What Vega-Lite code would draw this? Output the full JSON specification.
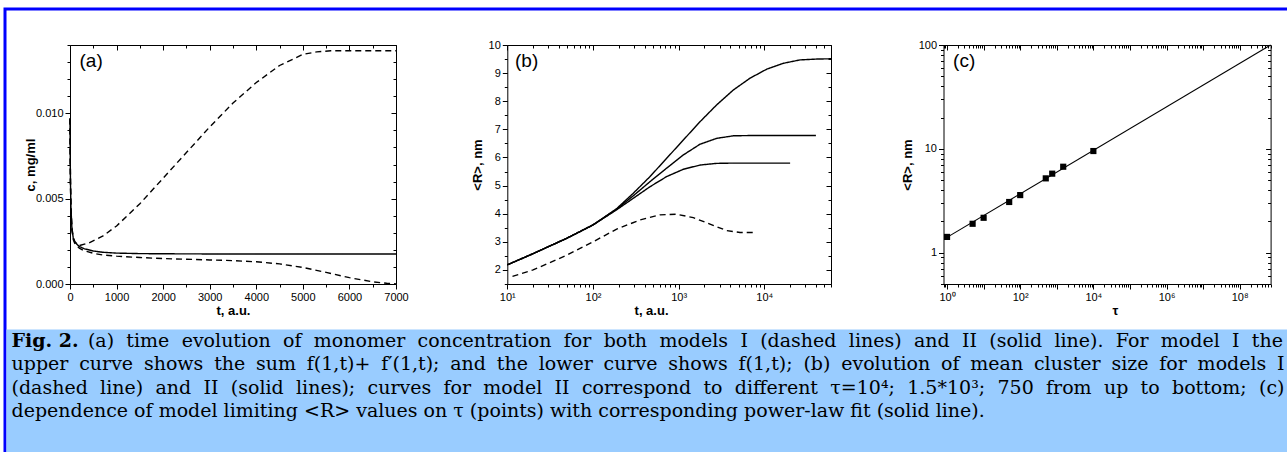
{
 "$schema": "https://vega.github.io/schema/vega-lite/v6.json",
 "width": 1282,
 "height": 443,
 "autosize": "none",
 "padding": {"left": 5, "top": 9, "right": 0, "bottom": 0},
 "background": "white",
 "config": {
  "view": {"stroke": "#0000FF", "strokeWidth": 3, "strokeDash": [1282, 1725, 443, 10]},
  "axis": {"grid": false, "domainColor": "#000000", "tickColor": "#000000", "labelColor": "#000000", "titleColor": "#000000", "labelFont": "Liberation Sans", "labelFontSize": 11, "titleFont": "Liberation Sans", "titleFontSize": 13, "titleFontWeight": "bold", "labelOverlap": false, "labelFlush": false, "labelBound": false, "labelPadding": 2, "tickWidth": 1, "domainWidth": 1}
 },
 "datasets": {
  "panelA": [
   {"curve": "I sum", "model": "I", "t": 0, "c": 0.0097},
   {"curve": "I sum", "model": "I", "t": 5, "c": 0.0075},
   {"curve": "I sum", "model": "I", "t": 10, "c": 0.006},
   {"curve": "I sum", "model": "I", "t": 20, "c": 0.0045},
   {"curve": "I sum", "model": "I", "t": 40, "c": 0.0033},
   {"curve": "I sum", "model": "I", "t": 70, "c": 0.0027},
   {"curve": "I sum", "model": "I", "t": 100, "c": 0.0025},
   {"curve": "I sum", "model": "I", "t": 150, "c": 0.00233},
   {"curve": "I sum", "model": "I", "t": 200, "c": 0.00225},
   {"curve": "I sum", "model": "I", "t": 400, "c": 0.0024},
   {"curve": "I sum", "model": "I", "t": 700, "c": 0.0028},
   {"curve": "I sum", "model": "I", "t": 1000, "c": 0.0034},
   {"curve": "I sum", "model": "I", "t": 1500, "c": 0.0047},
   {"curve": "I sum", "model": "I", "t": 2000, "c": 0.0062},
   {"curve": "I sum", "model": "I", "t": 2500, "c": 0.0077},
   {"curve": "I sum", "model": "I", "t": 3000, "c": 0.0092},
   {"curve": "I sum", "model": "I", "t": 3500, "c": 0.0106},
   {"curve": "I sum", "model": "I", "t": 4000, "c": 0.0118},
   {"curve": "I sum", "model": "I", "t": 4500, "c": 0.0128},
   {"curve": "I sum", "model": "I", "t": 5000, "c": 0.01345},
   {"curve": "I sum", "model": "I", "t": 5300, "c": 0.0136},
   {"curve": "I sum", "model": "I", "t": 5600, "c": 0.01366},
   {"curve": "I sum", "model": "I", "t": 7000, "c": 0.01366},
   {"curve": "I f", "model": "I", "t": 0, "c": 0.0097},
   {"curve": "I f", "model": "I", "t": 5, "c": 0.0075},
   {"curve": "I f", "model": "I", "t": 10, "c": 0.006},
   {"curve": "I f", "model": "I", "t": 20, "c": 0.0044},
   {"curve": "I f", "model": "I", "t": 40, "c": 0.0032},
   {"curve": "I f", "model": "I", "t": 70, "c": 0.0026},
   {"curve": "I f", "model": "I", "t": 100, "c": 0.0024},
   {"curve": "I f", "model": "I", "t": 150, "c": 0.00222},
   {"curve": "I f", "model": "I", "t": 200, "c": 0.0021},
   {"curve": "I f", "model": "I", "t": 300, "c": 0.00195},
   {"curve": "I f", "model": "I", "t": 500, "c": 0.0018},
   {"curve": "I f", "model": "I", "t": 700, "c": 0.0017},
   {"curve": "I f", "model": "I", "t": 1000, "c": 0.00163},
   {"curve": "I f", "model": "I", "t": 1500, "c": 0.00155},
   {"curve": "I f", "model": "I", "t": 2000, "c": 0.00149},
   {"curve": "I f", "model": "I", "t": 2500, "c": 0.00145},
   {"curve": "I f", "model": "I", "t": 3000, "c": 0.00141},
   {"curve": "I f", "model": "I", "t": 3500, "c": 0.00137},
   {"curve": "I f", "model": "I", "t": 4000, "c": 0.0013},
   {"curve": "I f", "model": "I", "t": 4500, "c": 0.00118},
   {"curve": "I f", "model": "I", "t": 5000, "c": 0.00097},
   {"curve": "I f", "model": "I", "t": 5500, "c": 0.00068},
   {"curve": "I f", "model": "I", "t": 6000, "c": 0.00037},
   {"curve": "I f", "model": "I", "t": 6500, "c": 0.00013},
   {"curve": "I f", "model": "I", "t": 6800, "c": 0.00004},
   {"curve": "I f", "model": "I", "t": 7000, "c": 0.00001},
   {"curve": "II", "model": "II", "t": 0, "c": 0.0097},
   {"curve": "II", "model": "II", "t": 5, "c": 0.0075},
   {"curve": "II", "model": "II", "t": 10, "c": 0.006},
   {"curve": "II", "model": "II", "t": 20, "c": 0.0045},
   {"curve": "II", "model": "II", "t": 40, "c": 0.0033},
   {"curve": "II", "model": "II", "t": 70, "c": 0.0027},
   {"curve": "II", "model": "II", "t": 100, "c": 0.0025},
   {"curve": "II", "model": "II", "t": 150, "c": 0.00232},
   {"curve": "II", "model": "II", "t": 200, "c": 0.0022},
   {"curve": "II", "model": "II", "t": 300, "c": 0.00207},
   {"curve": "II", "model": "II", "t": 500, "c": 0.00193},
   {"curve": "II", "model": "II", "t": 700, "c": 0.00186},
   {"curve": "II", "model": "II", "t": 1000, "c": 0.00181},
   {"curve": "II", "model": "II", "t": 1500, "c": 0.00178},
   {"curve": "II", "model": "II", "t": 2000, "c": 0.00177},
   {"curve": "II", "model": "II", "t": 3000, "c": 0.00176},
   {"curve": "II", "model": "II", "t": 7000, "c": 0.00176}
  ],
  "panelB": [
   {"curve": "tau 1e4", "model": "II", "t": 10, "R": 2.18},
   {"curve": "tau 1e4", "model": "II", "t": 20, "R": 2.58},
   {"curve": "tau 1e4", "model": "II", "t": 49, "R": 3.12},
   {"curve": "tau 1e4", "model": "II", "t": 100, "R": 3.6},
   {"curve": "tau 1e4", "model": "II", "t": 189, "R": 4.18},
   {"curve": "tau 1e4", "model": "II", "t": 296, "R": 4.73},
   {"curve": "tau 1e4", "model": "II", "t": 463, "R": 5.32},
   {"curve": "tau 1e4", "model": "II", "t": 724, "R": 5.97},
   {"curve": "tau 1e4", "model": "II", "t": 1133, "R": 6.62},
   {"curve": "tau 1e4", "model": "II", "t": 1774, "R": 7.27},
   {"curve": "tau 1e4", "model": "II", "t": 2777, "R": 7.87},
   {"curve": "tau 1e4", "model": "II", "t": 4349, "R": 8.4},
   {"curve": "tau 1e4", "model": "II", "t": 6808, "R": 8.82},
   {"curve": "tau 1e4", "model": "II", "t": 10660, "R": 9.14},
   {"curve": "tau 1e4", "model": "II", "t": 16680, "R": 9.35},
   {"curve": "tau 1e4", "model": "II", "t": 26100, "R": 9.47},
   {"curve": "tau 1e4", "model": "II", "t": 40800, "R": 9.5},
   {"curve": "tau 1e4", "model": "II", "t": 60000, "R": 9.51},
   {"curve": "tau 1.5e3", "model": "II", "t": 10, "R": 2.18},
   {"curve": "tau 1.5e3", "model": "II", "t": 20, "R": 2.58},
   {"curve": "tau 1.5e3", "model": "II", "t": 49, "R": 3.12},
   {"curve": "tau 1.5e3", "model": "II", "t": 100, "R": 3.6},
   {"curve": "tau 1.5e3", "model": "II", "t": 189, "R": 4.16},
   {"curve": "tau 1.5e3", "model": "II", "t": 296, "R": 4.64},
   {"curve": "tau 1.5e3", "model": "II", "t": 463, "R": 5.14},
   {"curve": "tau 1.5e3", "model": "II", "t": 724, "R": 5.62},
   {"curve": "tau 1.5e3", "model": "II", "t": 1133, "R": 6.09},
   {"curve": "tau 1.5e3", "model": "II", "t": 1774, "R": 6.47},
   {"curve": "tau 1.5e3", "model": "II", "t": 2777, "R": 6.68},
   {"curve": "tau 1.5e3", "model": "II", "t": 4349, "R": 6.77},
   {"curve": "tau 1.5e3", "model": "II", "t": 6808, "R": 6.78},
   {"curve": "tau 1.5e3", "model": "II", "t": 40000, "R": 6.78},
   {"curve": "tau 750", "model": "II", "t": 10, "R": 2.18},
   {"curve": "tau 750", "model": "II", "t": 20, "R": 2.58},
   {"curve": "tau 750", "model": "II", "t": 49, "R": 3.12},
   {"curve": "tau 750", "model": "II", "t": 100, "R": 3.6},
   {"curve": "tau 750", "model": "II", "t": 189, "R": 4.14},
   {"curve": "tau 750", "model": "II", "t": 296, "R": 4.55},
   {"curve": "tau 750", "model": "II", "t": 463, "R": 4.96},
   {"curve": "tau 750", "model": "II", "t": 724, "R": 5.32},
   {"curve": "tau 750", "model": "II", "t": 1133, "R": 5.58},
   {"curve": "tau 750", "model": "II", "t": 1774, "R": 5.73},
   {"curve": "tau 750", "model": "II", "t": 2777, "R": 5.79},
   {"curve": "tau 750", "model": "II", "t": 4349, "R": 5.8},
   {"curve": "tau 750", "model": "II", "t": 20000, "R": 5.8},
   {"curve": "model I", "model": "I", "t": 11.5, "R": 1.77},
   {"curve": "model I", "model": "I", "t": 20, "R": 2.0},
   {"curve": "model I", "model": "I", "t": 49, "R": 2.52},
   {"curve": "model I", "model": "I", "t": 100, "R": 3.0},
   {"curve": "model I", "model": "I", "t": 189, "R": 3.45},
   {"curve": "model I", "model": "I", "t": 354, "R": 3.78},
   {"curve": "model I", "model": "I", "t": 605, "R": 3.96},
   {"curve": "model I", "model": "I", "t": 948, "R": 3.98},
   {"curve": "model I", "model": "I", "t": 1483, "R": 3.86},
   {"curve": "model I", "model": "I", "t": 2322, "R": 3.63},
   {"curve": "model I", "model": "I", "t": 3634, "R": 3.4},
   {"curve": "model I", "model": "I", "t": 5200, "R": 3.33},
   {"curve": "model I", "model": "I", "t": 7570, "R": 3.33}
  ],
  "panelC": [
   {"tau": 1, "R": 1.42},
   {"tau": 5, "R": 1.9},
   {"tau": 10, "R": 2.17},
   {"tau": 50, "R": 3.08},
   {"tau": 100, "R": 3.59},
   {"tau": 500, "R": 5.2},
   {"tau": 750, "R": 5.77},
   {"tau": 1500, "R": 6.73},
   {"tau": 10000, "R": 9.53}
  ],
  "fitC": [
   {"tau": 0.85, "R": 1.36},
   {"tau": 7e8, "R": 100}
  ],
  "caption": [
   {"line": 1, "part": "head", "text": "Fig. 2."},
   {"line": 1, "part": "right", "text": "(a) \u2004time \u2004evolution \u2004of \u2004monomer \u2004concentration \u2004for \u2004both \u2004models \u2004I \u2004(dashed \u2004lines) \u2004and \u2004II \u2004(solid \u2004line). \u2004For \u2004model \u2004I \u2004the"},
   {"line": 2, "part": "left", "text": "upper \u2005curve \u2005shows \u2005the \u2005sum \u2005f(1,t)+ \u2005f′(1,t); \u2005and \u2005the \u2005lower \u2005curve \u2005shows \u2005f(1,t); \u2005(b) \u2005evolution \u2005of \u2005mean \u2005cluster \u2005size \u2005for \u2005models \u2005I"},
   {"line": 3, "part": "left", "text": "(dashed \u2004line) \u2004and \u2004II \u2004(solid \u2004lines); \u2004curves \u2004for \u2004model \u2004II \u2004correspond \u2004to \u2004different \u2004τ=10⁴; \u20041.5*10³; \u2004750 \u2004from \u2004up \u2004to \u2004bottom; \u2004(c)"},
   {"line": 4, "part": "left", "text": "dependence of model limiting <R> values on τ (points) with corresponding power-law fit (solid line)."}
  ]
 },
 "layer": [
  {
   "data": {"name": "panelA"},
   "layer": [
    {
     "mark": {"type": "line", "color": "black", "strokeWidth": 1.4},
     "encoding": {
      "x": {"field": "t", "type": "quantitative", "scale": {"domain": [0, 7000], "range": [65, 391], "nice": false, "zero": false},
       "axis": {"orient": "bottom", "offset": -168, "values": [0,500,1000,1500,2000,2500,3000,3500,4000,4500,5000,5500,6000,6500,7000], "labelExpr": "datum.value % 1000 === 0 ? '' + datum.value : ''", "tickSize": {"condition": {"test": "datum.value % 1000 === 0", "value": 5}, "value": 3}, "title": "t, a.u.", "titlePadding": 2}},
      "y": {"field": "c", "type": "quantitative", "scale": {"domain": [0, 0.014], "range": [275, 36], "nice": false, "zero": false},
       "axis": {"orient": "left", "offset": -65, "values": [0,0.001,0.002,0.003,0.004,0.005,0.006,0.007,0.008,0.009,0.01,0.011,0.012,0.013,0.014], "labelExpr": "abs(datum.value*200 - round(datum.value*200)) < 0.000001 ? format(datum.value, '.3f') : ''", "tickSize": {"condition": {"test": "abs(datum.value*200 - round(datum.value*200)) < 0.000001", "value": 5}, "value": 3}, "title": "c, mg/ml", "titlePadding": -2}},
      "detail": {"field": "curve", "type": "nominal"},
      "strokeDash": {"field": "model", "type": "nominal", "scale": {"domain": ["I", "II"], "range": [[6, 4], [1, 0]]}, "legend": null}
     }
    },
    {
     "mark": {"type": "point", "opacity": 0},
     "encoding": {
      "x": {"field": "t", "type": "quantitative", "scale": {"domain": [0, 7000], "range": [65, 391], "nice": false, "zero": false},
       "axis": {"orient": "bottom", "offset": -407, "values": [0,500,1000,1500,2000,2500,3000,3500,4000,4500,5000,5500,6000,6500,7000], "labels": false, "title": null, "tickSize": {"condition": {"test": "datum.value % 1000 === 0", "value": 5}, "value": 3}}},
      "y": {"field": "c", "type": "quantitative", "scale": {"domain": [0, 0.014], "range": [275, 36], "nice": false, "zero": false},
       "axis": {"orient": "left", "offset": -391, "values": [0,0.001,0.002,0.003,0.004,0.005,0.006,0.007,0.008,0.009,0.01,0.011,0.012,0.013,0.014], "labels": false, "title": null, "tickSize": {"condition": {"test": "abs(datum.value*200 - round(datum.value*200)) < 0.000001", "value": 5}, "value": 3}}}
     }
    },
    {
     "data": {"values": [{"label": "(a)"}]},
     "mark": {"type": "text", "align": "left", "baseline": "alphabetic", "font": "Liberation Sans", "fontSize": 19, "color": "black"},
     "encoding": {
      "x": {"datum": 204, "type": "quantitative", "scale": {"domain": [0, 7000], "range": [65, 391], "nice": false, "zero": false}, "axis": null},
      "y": {"datum": 0.01273, "type": "quantitative", "scale": {"domain": [0, 0.014], "range": [275, 36], "nice": false, "zero": false}, "axis": null},
      "text": {"field": "label", "type": "nominal"}
     }
    }
   ],
   "resolve": {"axis": {"x": "independent", "y": "independent"}}
  },
  {
   "data": {"name": "panelB"},
   "layer": [
    {
     "mark": {"type": "line", "color": "black", "strokeWidth": 1.4},
     "encoding": {
      "x": {"field": "t", "type": "quantitative", "scale": {"type": "log", "domain": [10, 60000], "range": [502.3, 826], "nice": false},
       "axis": {"orient": "bottom", "offset": -168, "values": [10,20,30,40,50,60,70,80,90,100,200,300,400,500,600,700,800,900,1000,2000,3000,4000,5000,6000,7000,8000,9000,10000,20000,30000,40000,50000,60000], "labelExpr": "datum.value === 10 ? '10¹' : datum.value === 100 ? '10²' : datum.value === 1000 ? '10³' : datum.value === 10000 ? '10⁴' : ''", "tickSize": {"condition": {"test": "indexof([10,100,1000,10000], datum.value) >= 0", "value": 5}, "value": 3}, "title": "t, a.u.", "titlePadding": 2, "titleX": 663, "titleAlign": "right", "titleAnchor": "start"}},
      "y": {"field": "R", "type": "quantitative", "scale": {"domain": [1.5, 10], "range": [275, 36], "nice": false, "zero": false},
       "axis": {"orient": "left", "offset": -502.3, "values": [1.5,2,2.5,3,3.5,4,4.5,5,5.5,6,6.5,7,7.5,8,8.5,9,9.5,10], "labelExpr": "datum.value % 1 === 0 ? '' + datum.value : ''", "tickSize": {"condition": {"test": "datum.value % 1 === 0", "value": 5}, "value": 3}, "title": "<R>, nm", "titlePadding": 4}},
      "detail": {"field": "curve", "type": "nominal"},
      "strokeDash": {"field": "model", "type": "nominal", "scale": {"domain": ["I", "II"], "range": [[7, 4], [1, 0]]}, "legend": null}
     }
    },
    {
     "mark": {"type": "point", "opacity": 0},
     "encoding": {
      "x": {"field": "t", "type": "quantitative", "scale": {"type": "log", "domain": [10, 60000], "range": [502.3, 826], "nice": false},
       "axis": {"orient": "bottom", "offset": -407, "values": [10,20,30,40,50,60,70,80,90,100,200,300,400,500,600,700,800,900,1000,2000,3000,4000,5000,6000,7000,8000,9000,10000,20000,30000,40000,50000,60000], "labels": false, "title": null, "tickSize": {"condition": {"test": "indexof([10,100,1000,10000], datum.value) >= 0", "value": 5}, "value": 3}}},
      "y": {"field": "R", "type": "quantitative", "scale": {"domain": [1.5, 10], "range": [275, 36], "nice": false, "zero": false},
       "axis": {"orient": "left", "offset": -826, "values": [1.5,2,2.5,3,3.5,4,4.5,5,5.5,6,6.5,7,7.5,8,8.5,9,9.5,10], "labels": false, "title": null, "tickSize": {"condition": {"test": "datum.value % 1 === 0", "value": 5}, "value": 3}}}
     }
    },
    {
     "data": {"values": [{"label": "(b)"}]},
     "mark": {"type": "text", "align": "left", "baseline": "alphabetic", "font": "Liberation Sans", "fontSize": 19, "color": "black"},
     "encoding": {
      "x": {"datum": 12.3, "type": "quantitative", "scale": {"type": "log", "domain": [10, 60000], "range": [502.3, 826], "nice": false}, "axis": null},
      "y": {"datum": 9.23, "type": "quantitative", "scale": {"domain": [1.5, 10], "range": [275, 36], "nice": false, "zero": false}, "axis": null},
      "text": {"field": "label", "type": "nominal"}
     }
    }
   ],
   "resolve": {"axis": {"x": "independent", "y": "independent"}}
  },
  {
   "layer": [
    {
     "data": {"name": "panelC"},
     "mark": {"type": "square", "size": 38, "color": "black", "opacity": 1},
     "encoding": {
      "x": {"field": "tau", "type": "quantitative", "scale": {"type": "log", "domain": [0.8, 700000000], "range": [938.5, 1265.6], "nice": false},
       "axis": {"orient": "bottom", "offset": -168, "values": [0.8,0.9,1,2,3,4,5,6,7,8,9,10,20,30,40,50,60,70,80,90,100,200,300,400,500,600,700,800,900,1000,2000,3000,4000,5000,6000,7000,8000,9000,1e4,2e4,3e4,4e4,5e4,6e4,7e4,8e4,9e4,1e5,2e5,3e5,4e5,5e5,6e5,7e5,8e5,9e5,1e6,2e6,3e6,4e6,5e6,6e6,7e6,8e6,9e6,1e7,2e7,3e7,4e7,5e7,6e7,7e7,8e7,9e7,1e8,2e8,3e8,4e8,5e8,6e8,7e8], "labelExpr": "datum.value === 1 ? '10⁰' : datum.value === 100 ? '10²' : datum.value === 10000 ? '10⁴' : datum.value === 1000000 ? '10⁶' : datum.value === 100000000 ? '10⁸' : ''", "tickSize": {"condition": {"test": "indexof([1,10,100,1000,10000,100000,1000000,10000000,100000000], datum.value) >= 0", "value": 5}, "value": 3}, "title": "τ", "titlePadding": 2, "titleX": 1110, "titleAlign": "center", "titleAnchor": "start"}},
      "y": {"field": "R", "type": "quantitative", "scale": {"type": "log", "domain": [0.5, 100], "range": [275, 36], "nice": false},
       "axis": {"orient": "left", "offset": -938.5, "values": [0.5,0.6,0.7,0.8,0.9,1,2,3,4,5,6,7,8,9,10,20,30,40,50,60,70,80,90,100], "labelExpr": "indexof([1,10,100], datum.value) >= 0 ? '' + datum.value : ''", "tickSize": {"condition": {"test": "indexof([1,10,100], datum.value) >= 0", "value": 5}, "value": 3}, "title": "<R>, nm", "titlePadding": 4}}
     }
    },
    {
     "data": {"name": "fitC"},
     "mark": {"type": "line", "color": "black", "strokeWidth": 1.1},
     "encoding": {
      "x": {"field": "tau", "type": "quantitative", "scale": {"type": "log", "domain": [0.8, 700000000], "range": [938.5, 1265.6], "nice": false},
       "axis": {"orient": "bottom", "offset": -407, "values": [0.8,0.9,1,2,3,4,5,6,7,8,9,10,20,30,40,50,60,70,80,90,100,200,300,400,500,600,700,800,900,1000,2000,3000,4000,5000,6000,7000,8000,9000,1e4,2e4,3e4,4e4,5e4,6e4,7e4,8e4,9e4,1e5,2e5,3e5,4e5,5e5,6e5,7e5,8e5,9e5,1e6,2e6,3e6,4e6,5e6,6e6,7e6,8e6,9e6,1e7,2e7,3e7,4e7,5e7,6e7,7e7,8e7,9e7,1e8,2e8,3e8,4e8,5e8,6e8,7e8], "labels": false, "title": null, "tickSize": {"condition": {"test": "indexof([1,10,100,1000,10000,100000,1000000,10000000,100000000], datum.value) >= 0", "value": 5}, "value": 3}}},
      "y": {"field": "R", "type": "quantitative", "scale": {"type": "log", "domain": [0.5, 100], "range": [275, 36], "nice": false},
       "axis": {"orient": "left", "offset": -1265.6, "values": [0.5,0.6,0.7,0.8,0.9,1,2,3,4,5,6,7,8,9,10,20,30,40,50,60,70,80,90,100], "labels": false, "title": null, "tickSize": {"condition": {"test": "indexof([1,10,100], datum.value) >= 0", "value": 5}, "value": 3}}}
     }
    },
    {
     "data": {"values": [{"label": "(c)"}]},
     "mark": {"type": "text", "align": "left", "baseline": "alphabetic", "font": "Liberation Sans", "fontSize": 19, "color": "black"},
     "encoding": {
      "x": {"datum": 1.46, "type": "quantitative", "scale": {"type": "log", "domain": [0.8, 700000000], "range": [938.5, 1265.6], "nice": false}, "axis": null},
      "y": {"datum": 61.8, "type": "quantitative", "scale": {"type": "log", "domain": [0.5, 100], "range": [275, 36], "nice": false}, "axis": null},
      "text": {"field": "label", "type": "nominal"}
     }
    }
   ],
   "resolve": {"axis": {"x": "independent", "y": "independent"}}
  },
  {
   "layer": [
    {
     "data": {"values": [{"box": "caption"}]},
     "mark": {"type": "rect", "color": "#99CCFF"},
     "encoding": {
      "x": {"datum": 0, "type": "quantitative", "scale": {"domain": [0, 1], "range": [1.5, 1282], "nice": false, "zero": false}, "axis": null},
      "x2": {"datum": 1},
      "y": {"datum": 0.25, "type": "quantitative", "scale": {"domain": [0.25, 5.5], "range": [320.5, 443], "nice": false, "zero": false}, "axis": null},
      "y2": {"datum": 5.5}
     }
    },
    {
     "data": {"name": "caption"},
     "transform": [{"filter": "datum.part === 'head'"}],
     "mark": {"type": "text", "align": "left", "baseline": "alphabetic", "font": "DejaVu Serif", "fontSize": 19, "fontWeight": "bold", "dx": 5, "color": "black"},
     "encoding": {
      "x": {"datum": 0, "type": "quantitative", "scale": {"domain": [0, 1], "range": [1.5, 1282], "nice": false, "zero": false}, "axis": null},
      "y": {"field": "line", "type": "quantitative", "scale": {"domain": [0.25, 5.5], "range": [320.5, 443], "nice": false, "zero": false}, "axis": null},
      "text": {"field": "text", "type": "nominal"}
     }
    },
    {
     "data": {"name": "caption"},
     "transform": [{"filter": "datum.part === 'left'"}],
     "mark": {"type": "text", "align": "left", "baseline": "alphabetic", "font": "DejaVu Serif", "fontSize": 19, "dx": 5, "color": "black"},
     "encoding": {
      "x": {"datum": 0, "type": "quantitative", "scale": {"domain": [0, 1], "range": [1.5, 1282], "nice": false, "zero": false}, "axis": null},
      "y": {"field": "line", "type": "quantitative", "scale": {"domain": [0.25, 5.5], "range": [320.5, 443], "nice": false, "zero": false}, "axis": null},
      "text": {"field": "text", "type": "nominal"}
     }
    },
    {
     "data": {"name": "caption"},
     "transform": [{"filter": "datum.part === 'right'"}],
     "mark": {"type": "text", "align": "right", "baseline": "alphabetic", "font": "DejaVu Serif", "fontSize": 19, "dx": -4, "color": "black"},
     "encoding": {
      "x": {"datum": 1, "type": "quantitative", "scale": {"domain": [0, 1], "range": [1.5, 1282], "nice": false, "zero": false}, "axis": null},
      "y": {"field": "line", "type": "quantitative", "scale": {"domain": [0.25, 5.5], "range": [320.5, 443], "nice": false, "zero": false}, "axis": null},
      "text": {"field": "text", "type": "nominal"}
     }
    }
   ]
  }
 ],
 "resolve": {"scale": {"x": "independent", "y": "independent"}}
}
